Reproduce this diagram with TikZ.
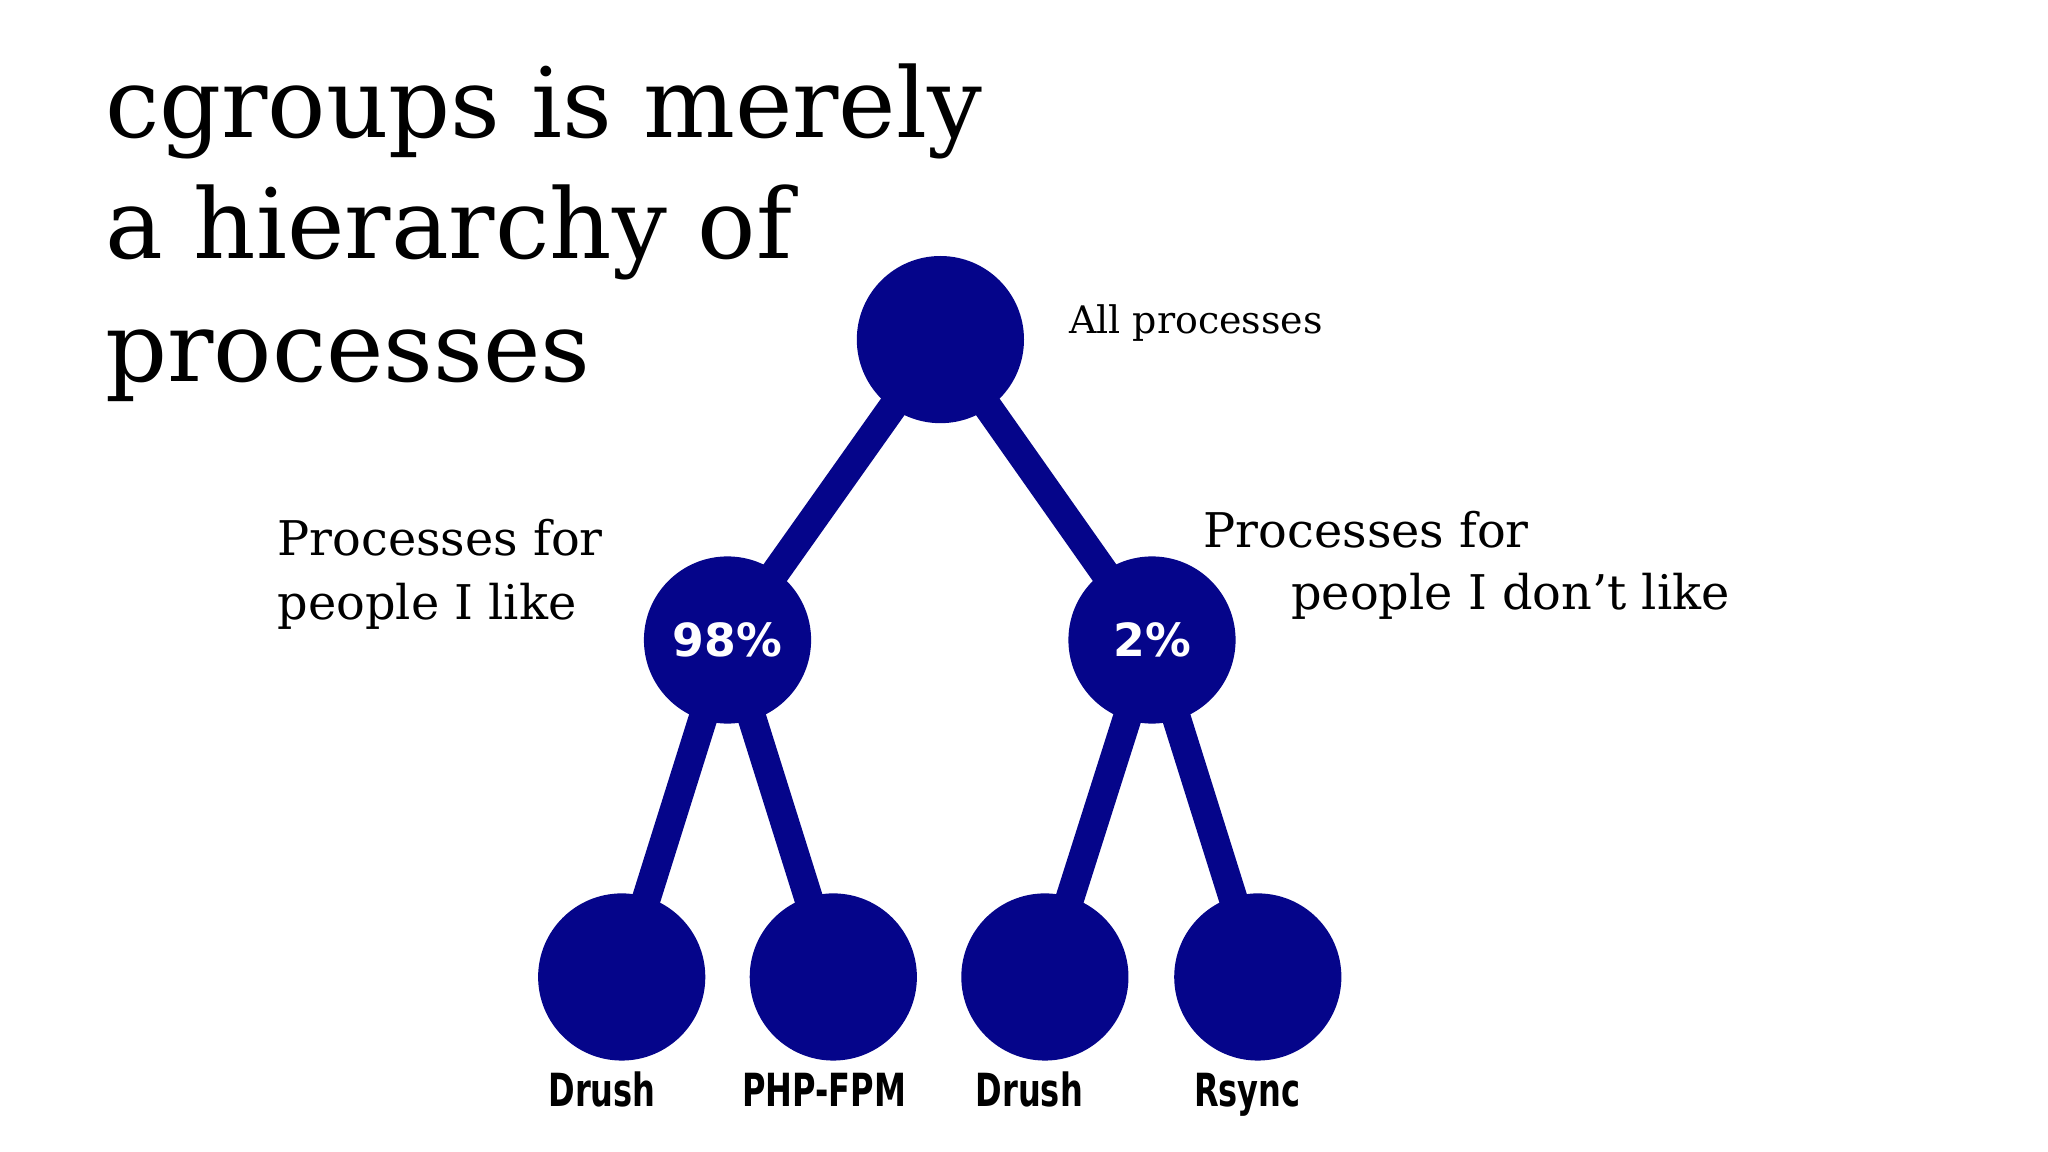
\documentclass[tikz,border=0pt]{standalone}
\usepackage{fontspec}
\setmainfont{DejaVu Serif}
\newfontfamily\pctfont{DejaVu Sans}
\newfontfamily\leaffont[FakeStretch=0.78]{DejaVu Sans Condensed}
\usetikzlibrary{backgrounds}
\definecolor{navy}{HTML}{05058A}
\begin{document}
\begin{tikzpicture}[x=0.013061cm,y=-0.013061cm,
  dot/.style={circle,fill=navy,minimum size={128*0.013061cm},inner sep=0pt},
  link/.style={draw=navy,line width={22*0.013061cm}},
  lbl/.style={anchor=base west,inner sep=0pt,font=\fontsize{13.6}{16}\selectfont},
  leaf/.style={anchor=base,inner sep=0pt,font=\leaffont\bfseries\fontsize{13}{15}\selectfont},
  title/.style={anchor=base west,inner sep=0pt,font=\fontsize{27.6}{34}\selectfont}]
\useasboundingbox (0,0) rectangle (1568,882);
\node[title] (t1) at (80,105) {cgroups is merely};
\node[title] (t2) at (80,198) {a hierarchy of};
\node[title] (t3) at (80,292) {processes};
\node[dot] (root) at (720,260) {};
\node[dot,font=\pctfont\bfseries\fontsize{13}{15}\selectfont,text=white] (l) at (557,490) {98\%};
\node[dot,font=\pctfont\bfseries\fontsize{13}{15}\selectfont,text=white] (r) at (882,490) {2\%};
\node[dot] (a) at (476,748) {};
\node[dot] (b) at (638,748) {};
\node[dot] (c) at (800,748) {};
\node[dot] (d) at (963,748) {};
\begin{scope}[on background layer]
\draw[link] (root.center) -- (l.center);
\draw[link] (root.center) -- (r.center);
\draw[link] (l.center) -- (a.center);
\draw[link] (l.center) -- (b.center);
\draw[link] (r.center) -- (c.center);
\draw[link] (r.center) -- (d.center);
\end{scope}
\node[lbl,font=\fontsize{10.8}{13}\selectfont] (allp) at (818,255) {All processes};
\node[lbl] (p1) at (212,425) {Processes for};
\node[lbl] (p2) at (212,474) {people I like};
\node[lbl] (q1) at (921,419) {Processes for};
\node[lbl] (q2) at (988,467) {people I don’t like};
\node[leaf] (la) at (461,847) {Drush};
\node[leaf] (lb) at (631,847) {PHP-FPM};
\node[leaf] (lc) at (788,847) {Drush};
\node[leaf] (ld) at (955,847) {Rsync};
\end{tikzpicture}
\end{document}
